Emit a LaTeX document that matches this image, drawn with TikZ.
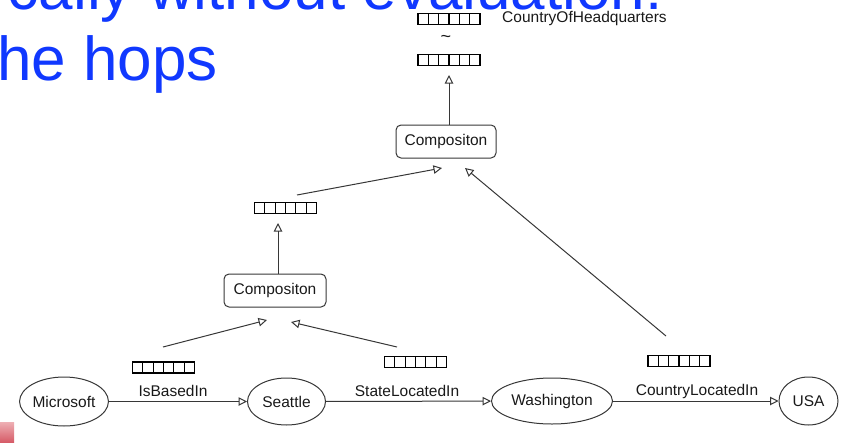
\documentclass[tikz,border=0pt]{standalone}
\usepackage{fontspec}
\setmainfont{Liberation Sans}
\usetikzlibrary{shapes.geometric,arrows.meta,calc}

\definecolor{slideblue}{RGB}{16,56,255}
\definecolor{inkline}{RGB}{55,55,55}
\definecolor{inktext}{RGB}{25,25,25}

\tikzset{
  lbl/.style={font=\fontsize{15.5}{18}\selectfont, text=inktext, inner sep=0pt},
  entity/.style={ellipse, draw=inkline, line width=1pt, inner sep=0pt,
                 font=\fontsize{15.5}{18}\selectfont, text=inktext},
  compbox/.style={rectangle, rounded corners=5pt, draw=inkline, line width=1pt,
                  minimum width=100pt, minimum height=33pt, inner sep=0pt,
                  font=\fontsize{15.5}{18}\selectfont, text=inktext},
  embvec/.style={rectangle, draw=black, line width=1.3pt, inner sep=0pt,
                 minimum width=62pt, minimum height=11pt,
                 path picture={
                   \foreach \k in {1,...,5}
                     \draw[line width=1.1pt]
                       ($(path picture bounding box.south west)!\k/6!(path picture bounding box.south east)$)
                       -- ($(path picture bounding box.north west)!\k/6!(path picture bounding box.north east)$);
                 }},
  conn/.style={draw=inkline, line width=1pt,
               -{Triangle[open, length=8.5pt, width=8.5pt, line width=1pt]}},
  heading/.style={font=\fontsize{62}{74}\selectfont, text=slideblue, inner sep=0pt},
}

\begin{document}
\begin{tikzpicture}[x=1pt, y=-1pt]
  \useasboundingbox (0,0) rectangle (846,442);
  \clip (0,0) rectangle (846,442);

  % slide heading, running past the top and left edges
  \node[heading, anchor=base east] (headA) at (663,9) {cally without evaluation:};
  \node[heading, anchor=base west] (headB) at (-3,80) {he hops};

  % corner accent
  \shade[top color={rgb,255:red,238;green,175;blue,180}, bottom color={rgb,255:red,214;green,92;blue,104}]
    (0,422) rectangle (14,442);

  % target relation embedding
  \node[embvec] (vtop) at (449,19) {};
  \node[lbl, anchor=west] (cohq) at (502,18) {CountryOfHeadquarters};
  \node[lbl, font=\fontsize{18}{20}\selectfont] (approx) at (446,39) {\textasciitilde};
  \node[embvec] (vout) at (449,60) {};

  % composition blocks
  \node[compbox] (compA) at (446,141.5) {Compositon};
  \node[embvec] (vmid) at (285.5,208) {};
  \node[compbox, minimum width=102pt] (compB) at (275,290.5) {Compositon};

  % relation embeddings along the path
  \node[embvec] (vA) at (163.5,367.5) {};
  \node[embvec] (vB) at (415.5,362) {};
  \node[embvec] (vC) at (679,361) {};

  % entities
  \node[entity, minimum width=88pt, minimum height=49pt] (ms) at (64,401.5) {Microsoft};
  \node[entity, minimum width=78pt, minimum height=47pt] (se) at (286.5,401.5) {Seattle};
  \node[entity, minimum width=121pt, minimum height=46pt] (wa) at (552,401) {Washington};
  \node[entity, minimum width=59pt, minimum height=48pt] (usa) at (808.5,401) {USA};

  % relation labels
  \node[lbl] (rA) at (173,391) {IsBasedIn};
  \node[lbl] (rB) at (407,391) {StateLocatedIn};
  \node[lbl] (rC) at (697,391) {CountryLocatedIn};

  % path edges
  \draw[conn] (ms) -- (se);
  \draw[conn] (se) -- (wa);
  \draw[conn] (wa) -- (usa);

  % connector end points around the composition blocks
  \coordinate (outTip) at (449,75);
  \coordinate (midTip) at (278,223);
  \coordinate (aInL) at (442,168);
  \coordinate (aInR) at (465,168);
  \coordinate (bInL) at (267,320);
  \coordinate (bInR) at (291,322);
  \coordinate (vmidOut) at (297,195);
  \coordinate (vAOut) at (163,347);
  \coordinate (vBOut) at (397,347);
  \coordinate (vCOut) at (666,336);

  \draw[conn] (vAOut) -- (bInL);
  \draw[conn] (vBOut) -- (bInR);
  \draw[conn] ([xshift=3pt]compB.north) -- (midTip);
  \draw[conn] (vmidOut) -- (aInL);
  \draw[conn] (vCOut) -- (aInR);
  \draw[conn] ([xshift=3pt]compA.north) -- (outTip);
\end{tikzpicture}
\end{document}
